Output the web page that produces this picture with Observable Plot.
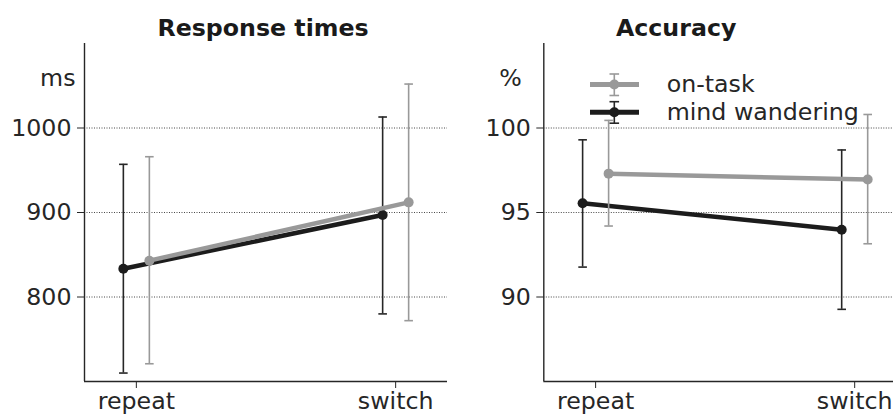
<!DOCTYPE html>
<html><head><meta charset="utf-8">
<script src="https://cdn.jsdelivr.net/npm/d3@7"></script>
<script src="https://cdn.jsdelivr.net/npm/@observablehq/plot@0.6"></script>
<style>
body{margin:0;background:#fff;}
#wrap{position:relative;width:893px;height:415px;overflow:hidden;font-family:"DejaVu Sans",sans-serif;background:#fff;}
.panel{position:absolute;top:0;}
#legend{position:absolute;left:0;top:0;pointer-events:none;}
</style></head>
<body><div id="wrap"></div>
<script>
// ---- data ----
const conditions = ["repeat", "switch"];
const groups = ["on-task", "mind wandering"];
const groupColors = ["#999999", "#1c1c1c"];

// Response times (ms)
const rtOnTask   = [843, 912];
const rtOnTaskLo = [721, 772];
const rtOnTaskHi = [966, 1052];
const rtMind     = [833.5, 897];
const rtMindLo   = [710, 780];
const rtMindHi   = [957, 1013];
const rtTicks    = [800, 900, 1000];
const rtDomain   = [700, 1100];

// Accuracy (%)
const accOnTask   = [97.3, 96.95];
const accOnTaskLo = [94.2, 93.15];
const accOnTaskHi = [100.45, 100.8];
const accMind     = [95.55, 93.98];
const accMindLo   = [91.77, 89.27];
const accMindHi   = [99.3, 98.7];
const accTicks    = [90, 95, 100];
const accDomain   = [85, 105];

const xDomain = [-0.2, 1.2];
const FS = 23.7;

function rows(y, lo, hi) {
  return conditions.map((c, i) => ({x: i, y: y[i], lo: lo[i], hi: hi[i]}));
}

const cap = {draw(ctx) { ctx.moveTo(-4.3, 0); ctx.lineTo(4.3, 0); }};

function seriesMarks(data, color, dx, errColor) {
  return [
    Plot.ruleX(data, {x: "x", y1: "lo", y2: "hi", dx, stroke: errColor, strokeWidth: 1.6}),
    Plot.dot(data, {x: "x", y: "lo", dx, symbol: cap, stroke: errColor, strokeWidth: 1.6, fill: "none"}),
    Plot.dot(data, {x: "x", y: "hi", dx, symbol: cap, stroke: errColor, strokeWidth: 1.6, fill: "none"}),
    Plot.line(data, {x: "x", y: "y", dx, stroke: color, strokeWidth: 4.5, strokeLinecap: "butt"}),
    Plot.dot(data, {x: "x", y: "y", dx, r: 5, fill: color, stroke: "none"})
  ];
}

function panel({title, unit, unitDx, titleDx, yDomain, yTicks, onTask, mind, left, width, marginLeft, marginRight}) {
  const chart = Plot.plot({
    width, height: 415,
    marginLeft, marginRight, marginTop: 43, marginBottom: 34,
    style: {fontFamily: "DejaVu Sans", fontSize: FS + "px", color: "#262626", background: "transparent", overflow: "visible"},
    x: {domain: xDomain, ticks: [0, 1], tickFormat: i => conditions[i], tickSize: 7, tickPadding: 4, label: null},
    y: {domain: yDomain, ticks: yTicks, tickFormat: d => String(d), tickSize: 7, tickPadding: 6, label: null},
    marks: [
      Plot.ruleY(yTicks, {stroke: "#333", strokeWidth: 0.9, strokeDasharray: "1,1.5"}),
      Plot.ruleX([xDomain[0]], {stroke: "#262626", strokeWidth: 1.4}),
      Plot.ruleY([yDomain[0]], {stroke: "#262626", strokeWidth: 1.4}),
      ...seriesMarks(mind, groupColors[1], -13, "#262626"),
      ...seriesMarks(onTask, groupColors[0], 13, "#999999"),
      Plot.text([title], {frameAnchor: "top", dx: titleDx, dy: -24.5, fontWeight: "bold", fontSize: FS, fill: "#1a1a1a"}),
      Plot.text([unit], {frameAnchor: "top-left", dx: unitDx, dy: 25.5, textAnchor: "end", fontSize: FS, fill: "#262626"})
    ]
  });
  const div = document.createElement("div");
  div.className = "panel";
  div.style.left = left + "px";
  div.style.width = width + "px";
  div.appendChild(chart);
  document.getElementById("wrap").appendChild(div);
}

panel({title: "Response times", unit: "ms", unitDx: -9, titleDx: -3,
  yDomain: rtDomain, yTicks: rtTicks,
  onTask: rows(rtOnTask, rtOnTaskLo, rtOnTaskHi), mind: rows(rtMind, rtMindLo, rtMindHi),
  left: 0, width: 450, marginLeft: 84, marginRight: 3});

panel({title: "Accuracy", unit: "%", unitDx: -22, titleDx: -49,
  yDomain: accDomain, yTicks: accTicks,
  onTask: rows(accOnTask, accOnTaskLo, accOnTaskHi), mind: rows(accMind, accMindLo, accMindHi),
  left: 450, width: 460, marginLeft: 93.3, marginRight: 4});

// ---- legend (inside the accuracy panel) ----
const svg = d3.select("#wrap").append("svg").attr("id", "legend").attr("width", 893).attr("height", 415);
groups.forEach((g, i) => {
  const y = 84.5 + i * 27.7;
  const col = groupColors[i];
  const errCol = i === 0 ? "#999999" : "#262626";
  const gg = svg.append("g");
  gg.append("line").attr("x1", 614.3).attr("x2", 614.3).attr("y1", y - 10.5).attr("y2", y + 11).attr("stroke", errCol).attr("stroke-width", 1.6);
  [y - 10.5, y + 11].forEach(cy => gg.append("line").attr("x1", 609.5).attr("x2", 619.1).attr("y1", cy).attr("y2", cy).attr("stroke", errCol).attr("stroke-width", 1.6));
  gg.append("line").attr("x1", 590).attr("x2", 639).attr("y1", y).attr("y2", y).attr("stroke", col).attr("stroke-width", 5);
  gg.append("circle").attr("cx", 614.3).attr("cy", y).attr("r", 5).attr("fill", col);
  gg.append("text").attr("x", 666.7).attr("y", y).attr("dy", "0.32em")
    .attr("font-family", "DejaVu Sans").attr("font-size", FS).attr("fill", "#262626").text(g);
});
</script>
</body></html>
